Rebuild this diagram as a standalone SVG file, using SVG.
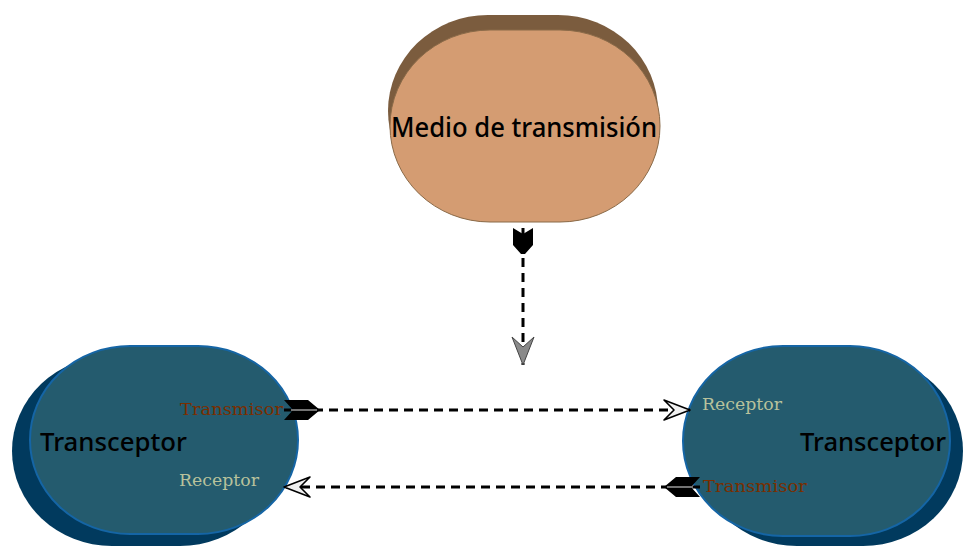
<svg xmlns="http://www.w3.org/2000/svg" width="963" height="546" viewBox="0 0 963 546">
<style>
.medio{fill:#d49c72;stroke:#8a6a48;stroke-width:1}
.medio-sh{fill:#7b5c3e}
.tr{fill:#245b6e;stroke:#1565a5;stroke-width:2}
.tr-sh{fill:#013a5e}
.big{font-family:"Noto Sans","Open Sans",sans-serif;fill:#000}
.lbl{font-family:"DejaVu Serif","Liberation Serif",serif;font-size:16.5px}
.tx{fill:#7a2e00}
.rx{fill:#b8c29c}
.conn{fill:none;stroke:#000;stroke-width:3;stroke-dasharray:9 6}
</style>
<defs>
<marker id="tail" markerUnits="userSpaceOnUse" markerWidth="40" markerHeight="24" refX="0" refY="12" orient="auto" viewBox="0 0 40 24" overflow="visible">
<path d="M0,2 L24,2 L36,12 L24,22 L0,22 L9,12 Z" fill="#000"/>
<path d="M7,12 L33,12" stroke="#9a9a9a" stroke-width="1.5"/>
</marker>
<marker id="tailv" markerUnits="userSpaceOnUse" markerWidth="40" markerHeight="24" refX="0" refY="12" orient="auto" viewBox="0 0 40 24" overflow="visible">
<path d="M0,2 L17,2 L26,10 L26,14 L17,22 L0,22 L6,12 Z" fill="#000"/>
</marker>
<marker id="head" markerUnits="userSpaceOnUse" markerWidth="30" markerHeight="24" refX="28" refY="12" orient="auto" viewBox="0 0 30 24" overflow="visible">
<path d="M28,12 L2,2 L12,12 L2,22 Z" fill="#f0f0f0" stroke="#000" stroke-width="1.6" stroke-linejoin="round"/>
</marker>
<marker id="headv" markerUnits="userSpaceOnUse" markerWidth="34" markerHeight="24" refX="30" refY="12" orient="auto" viewBox="0 0 34 24" overflow="visible">
<path d="M30,12 L2,1 L12,12 L2,23 Z" fill="#8a8a8a" stroke="#444" stroke-width="1" stroke-linejoin="round"/>
</marker>
</defs>
<g id="node-medio">
<rect class="medio-sh" x="388" y="15" width="270" height="192" rx="100" ry="96"/>
<rect class="medio" x="390" y="30" width="270" height="192" rx="100" ry="96"/>
<text class="big" x="524" y="137" font-size="27" font-weight="500" text-anchor="middle" textLength="266" lengthAdjust="spacingAndGlyphs">Medio de transmisión</text>
</g>
<g id="node-transceptor-left">
<rect class="tr-sh" x="12" y="356" width="268" height="190" rx="100" ry="95"/>
<rect class="tr" x="30" y="346" width="268" height="188" rx="100" ry="94"/>
<text class="big" x="40" y="451" font-size="26" font-weight="500" textLength="147" lengthAdjust="spacingAndGlyphs">Transceptor</text>
<text class="lbl tx" x="180" y="415" textLength="103" lengthAdjust="spacingAndGlyphs">Transmisor</text>
<text class="lbl rx" x="179" y="486" textLength="80" lengthAdjust="spacingAndGlyphs">Receptor</text>
</g>
<g id="node-transceptor-right">
<rect class="tr-sh" x="697" y="356" width="266" height="190" rx="100" ry="95"/>
<rect class="tr" x="683" y="346" width="267" height="190" rx="100" ry="95"/>
<text class="big" x="800" y="451" font-size="26" font-weight="500" textLength="146" lengthAdjust="spacingAndGlyphs">Transceptor</text>
<text class="lbl rx" x="702" y="410" textLength="80" lengthAdjust="spacingAndGlyphs">Receptor</text>
<text class="lbl tx" x="703" y="492" textLength="104" lengthAdjust="spacingAndGlyphs">Transmisor</text>
</g>
<g id="connectors">
<path class="conn" d="M523,228 L523,365" marker-start="url(#tailv)" marker-end="url(#headv)"/>
<path class="conn" d="M284,410 L690,410" marker-start="url(#tail)" marker-end="url(#head)"/>
<path class="conn" d="M700,487 L284,487" marker-start="url(#tail)" marker-end="url(#head)"/>
</g>
</svg>
